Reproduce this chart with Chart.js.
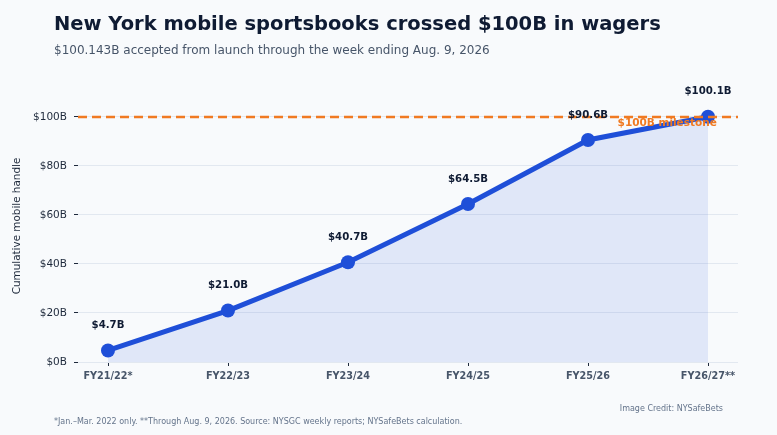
<!DOCTYPE html>
<html>
<head>
<meta charset="utf-8">
<script src="https://cdn.jsdelivr.net/npm/chart.js@4"></script>
<style>
  html, body { margin: 0; padding: 0; background: #f8fafc; }
  body { width: 777px; height: 435px; position: relative; overflow: hidden; font-family: "DejaVu Sans", sans-serif; }
  #wrap { position: absolute; left: 0; top: 0; width: 777px; height: 435px; }
  .txt { position: absolute; white-space: nowrap; }
  #title { left: 54px; top: 12px; font-size: 19.5px; font-weight: bold; color: #0f1b33; }
  #subtitle { left: 54px; top: 43px; font-size: 12px; color: #475569; }
  #foot { left: 54px; top: 417px; font-size: 8px; color: #64748b; }
  #credit { right: 54px; top: 404px; font-size: 8px; color: #64748b; }
</style>
</head>
<body>
<div id="wrap"><canvas id="chart"></canvas></div>
<div class="txt" id="title">New York mobile sportsbooks crossed $100B in wagers</div>
<div class="txt" id="subtitle">$100.143B accepted from launch through the week ending Aug. 9, 2026</div>
<div class="txt" id="foot">*Jan.–Mar. 2022 only. **Through Aug. 9, 2026. Source: NYSGC weekly reports; NYSafeBets calculation.</div>
<div class="txt" id="credit">Image Credit: NYSafeBets</div>
<script>
const seasons = ['FY21/22*', 'FY22/23', 'FY23/24', 'FY24/25', 'FY25/26', 'FY26/27**'];
const handle = [4.7, 21.0, 40.7, 64.5, 90.6, 100.1];
const pointLabels = ['$4.7B', '$21.0B', '$40.7B', '$64.5B', '$90.6B', '$100.1B'];
const milestone = 100;
const milestoneLabel = '$100B milestone';
const yTicks = [0, 20, 40, 60, 80, 100];

const labelPlugin = {
  id: 'labels',
  afterDatasetsDraw(chart) {
    const ctx = chart.ctx;
    const x = chart.scales.x, y = chart.scales.y;
    ctx.save();
    ctx.textAlign = 'center';
    ctx.textBaseline = 'middle';
    ctx.font = 'bold 10.2px "DejaVu Sans"';
    ctx.fillStyle = '#0f1b33';
    handle.forEach((v, i) => {
      ctx.fillText(pointLabels[i], x.getPixelForValue(i), y.getPixelForValue(v) - 25);
    });
    ctx.font = 'bold 10.5px "DejaVu Sans"';
    ctx.fillStyle = '#f07a22';
    ctx.fillText(milestoneLabel, x.getPixelForValue(4.66), y.getPixelForValue(milestone) + 6.5);
    ctx.restore();
  }
};

new Chart(document.getElementById('chart'), {
  type: 'line',
  data: {
    datasets: [
      {
        data: handle.map((v, i) => ({ x: i, y: v })),
        borderColor: '#1f4fd8',
        borderWidth: 5,
        backgroundColor: 'rgba(37, 85, 220, 0.11)',
        fill: 'origin',
        pointRadius: 7,
        pointBackgroundColor: '#1f4fd8',
        pointBorderWidth: 0,
        tension: 0,
        order: 2
      },
      {
        data: [{ x: -0.25, y: milestone }, { x: 5.25, y: milestone }],
        borderColor: '#f07a22',
        borderWidth: 2.5,
        borderDash: [9, 5],
        pointRadius: 0,
        fill: false,
        order: 1
      }
    ]
  },
  options: {
    responsive: true,
    maintainAspectRatio: false,
    animation: false,
    layout: { padding: { left: 0, top: 90, right: 39, bottom: 0 } },
    plugins: { legend: { display: false }, tooltip: { enabled: false } },
    scales: {
      x: {
        type: 'linear',
        min: -0.25,
        max: 5.25,
        afterBuildTicks(scale) { scale.ticks = seasons.map((s, i) => ({ value: i })); },
        afterFit(scale) { scale.height = 73; },
        border: { display: false },
        grid: { drawOnChartArea: false, drawTicks: true, tickLength: 4, tickColor: '#1e293b' },
        ticks: {
          callback: (v) => seasons[v],
          color: '#475569',
          padding: 5,
          font: { family: 'DejaVu Sans', size: 9.7, weight: 'bold' }
        },
      },
      y: {
        min: 0,
        max: 111,
        afterBuildTicks(scale) { scale.ticks = yTicks.map(v => ({ value: v })); },
        afterFit(scale) { scale.width = 78; },
        border: { display: false },
        grid: { color: '#e2e8f0', lineWidth: 1, tickLength: 4, tickColor: '#1e293b' },
        ticks: {
          callback: (v) => '$' + v + 'B',
          color: '#1e293b',
          padding: 7,
          font: { family: 'DejaVu Sans', size: 10.5 }
        },
        title: {
          display: true,
          text: 'Cumulative mobile handle',
          color: '#1e293b',
          padding: { top: 11, bottom: 0 },
          font: { family: 'DejaVu Sans', size: 10.4 }
        }
      }
    }
  },
  plugins: [labelPlugin]
});
</script>
</body>
</html>
